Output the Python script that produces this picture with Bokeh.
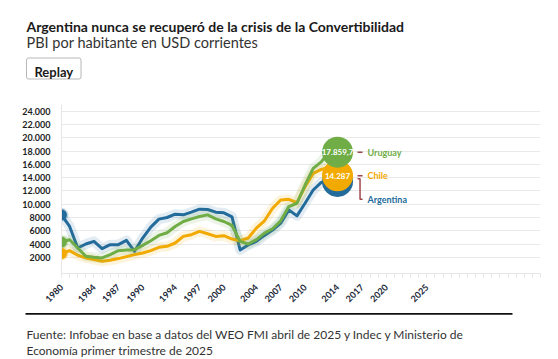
import math
from bokeh.plotting import figure
from bokeh.layouts import column
from bokeh.models import Range1d, FixedTicker, Label, BoxAnnotation
from bokeh.core.properties import value
from bokeh.embed import file_html
from bokeh.resources import INLINE

# ---------------- data ----------------
years = list(range(1980, 2015))
argentina = [8400, 6650, 3400, 4000, 4400, 3300, 3900, 3900, 4550, 2900,
             4900, 6550, 7750, 8000, 8500, 8400, 8800, 9250, 9200, 8800,
             8700, 8100, 3100, 3850, 4400, 5300, 6100, 7150, 9150, 8250,
             10150, 12150, 13300, 13600, 13450]
uruguay = [4300, 4650, 3400, 2150, 2000, 1900, 2400, 3000, 3100, 3150,
           3800, 4500, 5300, 5700, 6650, 7400, 7800, 8150, 8400, 7800,
           7400, 6800, 4400, 4000, 4650, 5650, 6300, 7500, 9650, 10150,
           12900, 15400, 16400, 18000, 17859.7]
chile = [2550, 3000, 2300, 1900, 1650, 1400, 1550, 1800, 2100, 2400,
         2650, 3000, 3500, 3650, 4150, 5150, 5400, 5900, 5550, 5150,
         5250, 4750, 4500, 4900, 6400, 7500, 9400, 10650, 10750, 10250,
         12650, 14650, 15250, 15600, 14287]
series_names = ["Argentina", "Chile", "Uruguay"]
x_tick_years = [1980, 1984, 1987, 1990, 1994, 1997, 2000, 2004, 2007, 2010,
                2014, 2017, 2020, 2025]
y_ticks = [2000, 4000, 6000, 8000, 10000, 12000, 14000, 16000, 18000,
           20000, 22000, 24000]

title = "Argentina nunca se recuperó de la crisis de la Convertibilidad"
subtitle = "PBI por habitante en USD corrientes"
button_text = "Replay"
source1 = "Fuente: Infobae en base a datos del WEO FMI abril de 2025 y Indec y Ministerio de"
source2 = "Economía primer trimestre de 2025"

# ---------------- styles ----------------
FONT = "Lato"
BLUE = "#236b9b"
GREEN = "#70ad47"
YELLOW = "#f2aa00"
CONNECT = "#a0464a"
PAGE_W = 558
HEAD_H = 90
FOOT_TOP = 308
PAGE_H = 359


def es_fmt(v):
    if abs(v - round(v)) > 1e-9:
        s = f"{v:,.1f}"
    else:
        s = f"{int(round(v)):,}"
    return s.replace(",", "X").replace(".", ",").replace("X", ".")


def tick_fmt(t):
    return f"{t:,}".replace(",", ".") if t >= 10000 else str(t)


def blank_fig(h, y_top, y_bottom):
    f = figure(width=PAGE_W, height=h, x_range=Range1d(0, PAGE_W),
               y_range=Range1d(y_bottom, y_top), output_backend="svg",
               toolbar_location=None, x_axis_location=None, y_axis_location=None,
               min_border_left=0, min_border_right=0, min_border_top=0,
               min_border_bottom=0)
    f.outline_line_color = None
    f.xgrid.visible = False
    f.ygrid.visible = False
    f.frame_align = False
    return f


# ---------------- header ----------------
head = blank_fig(HEAD_H, 0, HEAD_H)
head.add_layout(Label(x=26, y=25.5, text=title, text_font=FONT, text_font_style="bold",
                      text_font_size="14px", text_color="#1a1a1a",
                      text_baseline="alphabetic"))
head.add_layout(Label(x=26, y=41.8, text=subtitle, text_font=FONT, text_font_size="14.5px",
                      text_color="#333333", text_baseline="alphabetic"))
head.add_layout(BoxAnnotation(left=26, right=80.5, top=57.5, bottom=78.5,
                              fill_color="white", fill_alpha=1, line_color="#b8b8b8",
                              line_width=1, line_alpha=1, border_radius=2))
head.add_layout(Label(x=53.3, y=71.5, text=button_text, text_font=FONT, text_font_style="bold",
                      text_font_size="13px", text_color="#1a1a1a", text_align="center",
                      text_baseline="alphabetic"))

# ---------------- chart ----------------
CH_H = FOOT_TOP - HEAD_H
ML, MR, MT = 61, 18, 14
FH = 170
MB = CH_H - MT - FH
X0, X1 = 1980, 2039
Y0, Y1 = -450, 25050
FW = PAGE_W - ML - MR
ppy = FW / (X1 - X0)
ppu = FH / (Y1 - Y0)

p = figure(width=PAGE_W, height=CH_H, x_range=Range1d(X0, X1), y_range=Range1d(Y0, Y1),
           output_backend="svg", toolbar_location=None,
           min_border_left=ML, min_border_right=MR, min_border_top=MT,
           min_border_bottom=MB)
p.frame_align = False
p.outline_line_color = None
p.xgrid.visible = False
p.ygrid.grid_line_color = "#e9e9e9"
p.ygrid.grid_line_width = 1

p.yaxis.ticker = FixedTicker(ticks=y_ticks)
p.yaxis.major_label_overrides = {t: tick_fmt(t) for t in y_ticks}
p.yaxis.major_tick_line_color = None
p.yaxis.minor_tick_line_color = None
p.yaxis.axis_line_color = "#e6e6e6"
p.yaxis.major_label_text_font = FONT
p.yaxis.major_label_text_font_style = "bold"
p.yaxis.major_label_text_font_size = "9px"
p.yaxis.major_label_text_color = "#1e1e1e"
p.yaxis.major_label_standoff = 5

p.xaxis.ticker = FixedTicker(ticks=x_tick_years, minor_ticks=list(range(1980, 2040)))
p.xaxis.major_label_overrides = {t: str(t) for t in x_tick_years}
p.xaxis.major_label_orientation = math.pi / 4
p.xaxis.axis_line_color = "#e6e6e6"
p.xaxis.major_tick_line_color = "#e6e6e6"
p.xaxis.major_tick_in = 0
p.xaxis.major_tick_out = 4
p.xaxis.minor_tick_line_color = "#e6e6e6"
p.xaxis.minor_tick_in = 0
p.xaxis.minor_tick_out = 4
p.xaxis.major_label_text_font = FONT
p.xaxis.major_label_text_font_style = "bold"
p.xaxis.major_label_text_font_size = "9px"
p.xaxis.major_label_text_color = "#1b2838"
p.xaxis.major_label_standoff = 8

data = {"Argentina": (argentina, BLUE), "Chile": (chile, YELLOW), "Uruguay": (uruguay, GREEN)}

for name in series_names:
    vals, col = data[name]
    p.line(years, vals, line_width=10, line_color=col, line_alpha=0.13, line_join="round")
    p.line(years, vals, line_width=3, line_color=col, line_join="round")

for name in series_names:
    vals, col = data[name]
    p.scatter([years[0]], [vals[0]], size=11, fill_color=col, line_color=col,
              line_alpha=0.25, line_width=3)

for name in series_names:
    vals, col = data[name]
    p.scatter([years[-1]], [vals[-1]], size=31, fill_color=col, line_color=None)
    if name != "Argentina":
        p.text([years[-1]], [vals[-1]], text=[es_fmt(vals[-1])], text_align="center",
               text_baseline="middle", text_color="white", text_font=value(FONT),
               text_font_style="bold", text_font_size="8px")

lx = years[-1]
arg_drop = 18
p.text([lx, lx, lx], [uruguay[-1], chile[-1], argentina[-1]],
       text=["Uruguay", "Chile", "Argentina"], x_offset=30, y_offset=[0, 0, arg_drop],
       text_color=[GREEN, YELLOW, BLUE], text_font=value(FONT), text_font_style="bold",
       text_font_size="9px", text_baseline="middle", text_align="left")


def dx(px):
    return lx + px / ppy


for v in (uruguay[-1], chile[-1]):
    p.line([dx(20), dx(25)], [v, v], line_color=CONNECT, line_width=1.5)
ya = argentina[-1] - arg_drop / ppu
ytop = chile[-1] - 3 / ppu
p.line([dx(20), dx(22.5), dx(22.5), dx(25)], [ytop, ytop, ya, ya],
       line_color=CONNECT, line_width=1.5)

# ---------------- footer ----------------
foot = blank_fig(PAGE_H - FOOT_TOP, FOOT_TOP, PAGE_H)
foot.add_layout(BoxAnnotation(left=25, right=512, top=312.6, bottom=314.2,
                              fill_color="#111111", fill_alpha=1, line_color=None))
foot.add_layout(Label(x=26, y=334.3, text=source1, text_font=FONT, text_font_size="12px",
                      text_color="#333333", text_baseline="alphabetic"))
foot.add_layout(Label(x=26, y=350.3, text=source2, text_font=FONT, text_font_size="12px",
                      text_color="#333333", text_baseline="alphabetic"))

layout = column(head, p, foot, spacing=0)
open("out.html", "w").write(file_html(layout, INLINE))
